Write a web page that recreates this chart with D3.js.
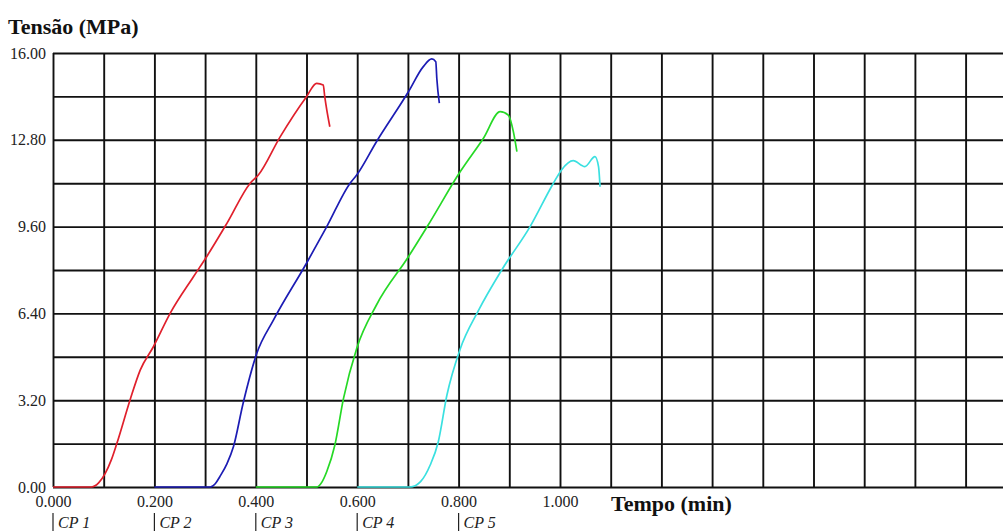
<!DOCTYPE html>
<html>
<head>
<meta charset="utf-8">
<script src="https://cdn.jsdelivr.net/npm/d3@7"></script>
<style>
  body { margin: 0; background: #fff; }
  svg { display: block; }
  .grid line { stroke: #111; stroke-width: 1.9; }
  .grid path { display: none; }
  .lbl text { font-family: 'Liberation Serif', 'Times New Roman', serif; font-size: 16px; fill: #222; }
  .lbl path, .lbl line { display: none; }
  .title { font-family: 'Liberation Serif', 'Times New Roman', serif; font-size: 22px; font-weight: bold; fill: #111; }
  .cp { font-family: 'Liberation Serif', 'Times New Roman', serif; font-size: 16px; font-style: italic; fill: #222; }
  .curve { fill: none; stroke-width: 1.7; stroke-linejoin: round; }
</style>
</head>
<body>
<svg width="1003" height="531"></svg>
<script>
// Tensão (MPa) x Tempo (min), one curve per specimen
var cp1 = [[0, 0], [0.076, 0], [0.09, 0.15], [0.103, 0.5], [0.115, 1.0], [0.126, 1.61], [0.152, 3.21], [0.172, 4.31],
    [0.198, 5.17], [0.231, 6.4], [0.277, 7.75], [0.303, 8.49], [0.343, 9.72], [0.389, 11.2],
    [0.405, 11.5], [0.448, 12.91], [0.5, 14.39], [0.52, 14.88], [0.533, 14.82], [0.536, 14.39],
    [0.54, 13.9], [0.546, 13.28]];
var cp2 = [[0.2, 0], [0.31, 0], [0.32, 0.12], [0.329, 0.38], [0.343, 0.85], [0.356, 1.49], [0.375, 3.09], [0.402, 4.93],
    [0.435, 6.16], [0.5, 8.25], [0.54, 9.6], [0.586, 11.2], [0.599, 11.5], [0.638, 12.73],
    [0.701, 14.57], [0.73, 15.49], [0.747, 15.78], [0.755, 15.68], [0.757, 15.07], [0.762, 14.15]];
var cp3 = [[0.4, 0], [0.52, 0], [0.531, 0.2], [0.54, 0.57], [0.556, 1.55], [0.573, 3.27], [0.599, 5.11],
    [0.638, 6.71], [0.701, 8.49], [0.74, 9.66], [0.803, 11.62], [0.849, 12.86], [0.882, 13.84],
    [0.898, 13.71], [0.908, 13.1], [0.915, 12.36]];
var cp4 = [[0.6, 0], [0.704, 0], [0.725, 0.2], [0.744, 0.81], [0.76, 1.67], [0.777, 3.39], [0.803, 5.08],
    [0.839, 6.5], [0.886, 8.03], [0.941, 9.6], [0.987, 11.2], [1.003, 11.69], [1.026, 12.03],
    [1.049, 11.81], [1.069, 12.18], [1.076, 11.81], [1.079, 11.07]];

var seriesColors = ['#e0202c', '#1c1cb4', '#26d926', '#3ae0e0'];

var yLabels = [0, 3.2, 6.4, 9.6, 12.8, 16];
var xLabels = [0, 0.2, 0.4, 0.6, 0.8, 1.0];
var cpNames = ['CP 1', 'CP 2', 'CP 3', 'CP 4', 'CP 5'];
var cpStart = [0, 0.2, 0.4, 0.6, 0.8];

var svg = d3.select('svg');

var x = d3.scaleLinear().domain([0, 1.9]).range([53, 53 + 1.9 * 507]);
var y = d3.scaleLinear().domain([0, 16]).range([487, 53]);

// grid, one line every 0.1 min and every 1.60 MPa
var xGrid = d3.range(0, 20).map(function(i) { return i / 10; });
var yGrid = d3.range(0, 11).map(function(i) { return i * 1.6; });

svg.append('g')
    .attr('class', 'grid')
    .attr('transform', 'translate(0,487)')
    .call(d3.axisBottom(x).tickValues(xGrid).tickSize(-434).tickFormat(''));

svg.append('g')
    .attr('class', 'grid')
    .attr('transform', 'translate(53,0)')
    .call(d3.axisLeft(y).tickValues(yGrid).tickSize(-1000).tickFormat(''));

// tick labels
svg.append('g')
    .attr('class', 'lbl')
    .attr('transform', 'translate(53,0)')
    .call(d3.axisLeft(y).tickValues(yLabels).tickSize(0).tickPadding(7).tickFormat(d3.format('.2f')));

svg.append('g')
    .attr('class', 'lbl')
    .attr('transform', 'translate(0,487)')
    .call(d3.axisBottom(x).tickValues(xLabels).tickSize(0).tickPadding(9).tickFormat(d3.format('.3f')));

// curves
var line = d3.line()
    .curve(d3.curveMonotoneX)
    .x(function(d) { return x(d[0]); })
    .y(function(d) { return y(d[1]); });

[cp1, cp2, cp3, cp4].forEach(function(s, i) {
    svg.append('path')
        .attr('class', 'curve')
        .attr('d', line(s))
        .attr('stroke', seriesColors[i]);
});

// titles
svg.append('text')
    .attr('class', 'title')
    .attr('x', 8)
    .attr('y', 34)
    .text('Tensão (MPa)');

svg.append('text')
    .attr('class', 'title')
    .attr('x', 611)
    .attr('y', 511)
    .text('Tempo (min)');

// specimen markers under the axis
var cpG = svg.selectAll('.cpmark')
    .data(cpNames)
    .enter()
    .append('g')
    .attr('class', 'cpmark')
    .attr('transform', function(d, i) { return 'translate(' + x(cpStart[i]) + ',0)'; });

cpG.append('line')
    .attr('y1', 513).attr('y2', 531)
    .attr('stroke', '#222').attr('stroke-width', 1.2);

cpG.append('text')
    .attr('class', 'cp')
    .attr('x', 5)
    .attr('y', 528)
    .text(function(d) { return d; });
</script>
</body>
</html>
